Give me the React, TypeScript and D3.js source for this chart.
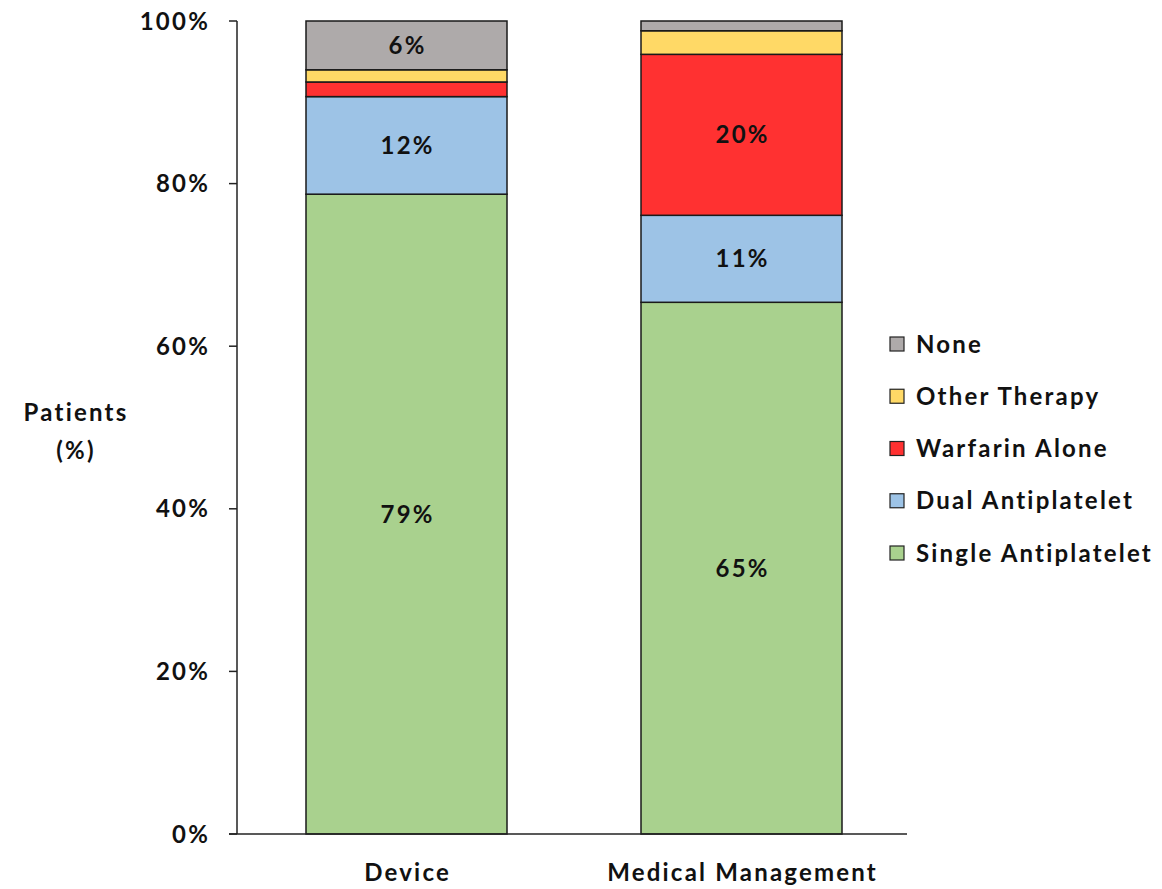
import React from "react";
import * as d3 from "d3";

const categories = ["Device", "Medical Management"];
const seriesNames = ["Single Antiplatelet", "Dual Antiplatelet", "Warfarin Alone", "Other Therapy", "None"];
const singleAntiplatelet = [78.7, 65.4];
const dualAntiplatelet = [12.0, 10.7];
const warfarinAlone = [1.8, 19.8];
const otherTherapy = [1.5, 2.9];
const none = [6.0, 1.2];
const labelTexts: (string | null)[][] = [
  ["79%", "65%"],
  ["12%", "11%"],
  [null, "20%"],
  [null, null],
  ["6%", null],
];
const colors = ["#a9d18e", "#9dc3e6", "#ff3131", "#ffd966", "#aeaaaa"];
const yTicks = [0, 20, 40, 60, 80, 100];

const FONT = "Lato, 'Open Sans', sans-serif";
const FS = 24;
const LS = 2.2;

export default function App() {
  const W = 1162, H = 889;
  const x0 = 237, x1 = 907, yTop = 21, yBot = 834;
  const x = d3.scaleBand<string>().domain(categories).range([x0 + 2, x1 + 2]).paddingInner(0.4).paddingOuter(0.2);
  const y = d3.scaleLinear().domain([0, 100]).range([yBot, yTop]);
  const seriesValues = [singleAntiplatelet, dualAntiplatelet, warfarinAlone, otherTherapy, none];
  const rows = categories.map((c, i) => {
    const r: any = { cat: c };
    seriesNames.forEach((s, k) => (r[s] = seriesValues[k][i]));
    return r;
  });
  const stack = d3.stack<any>().keys(seriesNames)(rows);
  const legendOrder = [4, 3, 2, 1, 0];
  const legendY = d3.scalePoint<number>().domain(legendOrder).range([344, 553]);
  const txt = { fontFamily: FONT, fontWeight: "bold" as const, fontSize: FS, fill: "#111", letterSpacing: LS };

  return (
    <svg width={W} height={H} style={{ position: "absolute", left: 0, top: 0 }}>
      <rect width={W} height={H} fill="#fff" />
      {stack.map((layer, k) =>
        layer.map((d, i) => {
          const bx = x(categories[i])!;
          const bw = x.bandwidth();
          const t = labelTexts[k][i];
          return (
            <g key={`${k}-${i}`}>
              <rect x={bx} y={y(d[1])} width={bw} height={y(d[0]) - y(d[1])} fill={colors[k]} stroke="#1a1a1a" strokeWidth={1.5} />
              {t && (
                <text x={bx + bw / 2 + LS / 2} y={(y(d[0]) + y(d[1])) / 2} dy="0.36em" textAnchor="middle" {...txt}>
                  {t}
                </text>
              )}
            </g>
          );
        })
      )}
      <line x1={x0} x2={x0} y1={yTop} y2={yBot} stroke="#222" strokeWidth={1.5} />
      <line x1={229} x2={x1} y1={yBot} y2={yBot} stroke="#222" strokeWidth={1.5} />
      {yTicks.map((t) => (
        <g key={t}>
          <line x1={229} x2={x0} y1={y(t)} y2={y(t)} stroke="#222" strokeWidth={1.5} />
          <text x={210} y={y(t)} dy="0.36em" textAnchor="end" {...txt}>
            {t}%
          </text>
        </g>
      ))}
      {categories.map((c) => (
        <text key={c} x={x(c)! + x.bandwidth() / 2 + LS / 2} y={872} dy="0.36em" textAnchor="middle" {...txt}>
          {c}
        </text>
      ))}
      <text x={76} y={412} dy="0.36em" textAnchor="middle" {...txt}>Patients</text>
      <text x={76} y={450} dy="0.36em" textAnchor="middle" {...txt}>(%)</text>
      {legendOrder.map((k) => (
        <g key={k}>
          <rect x={890} y={legendY(k)! - 7} width={14} height={14} fill={colors[k]} stroke="#222" strokeWidth={1.2} />
          <text x={916} y={legendY(k)!} dy="0.36em" {...txt}>
            {seriesNames[k]}
          </text>
        </g>
      ))}
    </svg>
  );
}
